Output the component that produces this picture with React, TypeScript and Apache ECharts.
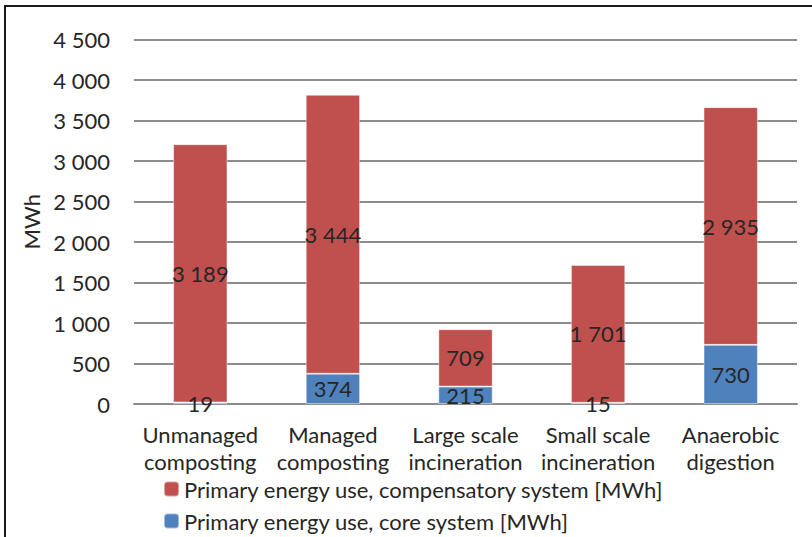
import React, { useEffect, useRef } from "react";
import * as echarts from "echarts";

const categories = [
  "Unmanaged\ncomposting",
  "Managed\ncomposting",
  "Large scale\nincineration",
  "Small scale\nincineration",
  "Anaerobic\ndigestion",
];
const coreSystem = [19, 374, 215, 15, 730];
const compensatorySystem = [3189, 3444, 709, 1701, 2935];
const coreName = "Primary energy use, core system [MWh]";
const compName = "Primary energy use, compensatory system [MWh]";

const FONT = "Lato";
const TEXT = "#262626";
const SIZE = 22;

// thousands separated with a space
const fmt = (v: number) => String(v).replace(/\B(?=(\d{3})+(?!\d))/g, " ");

const legendItem = (name: string, top: number) => ({
  orient: "vertical",
  left: 158,
  top,
  itemWidth: 15,
  itemHeight: 15,
  itemGap: 5,
  textStyle: { color: TEXT, fontSize: SIZE, fontFamily: FONT },
  data: [name],
});

export default function App() {
  const ref = useRef<HTMLDivElement>(null);
  useEffect(() => {
    if (!ref.current) return;
    const chart = echarts.init(ref.current, undefined, { renderer: "svg" });
    const label = {
      show: true,
      position: "inside" as const,
      color: TEXT,
      fontSize: SIZE,
      fontFamily: FONT,
      formatter: (p: any) => fmt(p.value),
    };
    chart.setOption({
      animation: false,
      backgroundColor: "#ffffff",
      textStyle: { fontFamily: FONT },
      graphic: [
        {
          type: "rect",
          shape: { x: 5, y: 6, width: 900, height: 700 },
          style: { fill: "none", stroke: "#1a1a1a", lineWidth: 2 },
          silent: true,
        },
      ],
      grid: { left: 134, right: 15, top: 39.5, bottom: 133, containLabel: false },
      legend: [legendItem(compName, 473), legendItem(coreName, 505)],
      xAxis: {
        type: "category",
        data: categories,
        axisLine: { lineStyle: { color: "#8c8c8c", width: 2 } },
        axisTick: { show: false },
        axisLabel: {
          interval: 0,
          color: TEXT,
          fontSize: SIZE,
          fontFamily: FONT,
          lineHeight: 27,
          margin: 17,
        },
      },
      yAxis: {
        type: "value",
        min: 0,
        max: 4500,
        interval: 500,
        name: "MWh",
        nameLocation: "middle",
        nameGap: 90,
        nameTextStyle: { color: TEXT, fontSize: SIZE, fontFamily: FONT },
        axisLine: { show: false },
        axisTick: { show: false },
        axisLabel: {
          color: TEXT,
          fontSize: SIZE,
          fontFamily: FONT,
          margin: 24,
          formatter: (v: number) => fmt(v),
        },
        splitLine: { lineStyle: { color: "#8c8c8c", width: 2 } },
      },
      series: [
        {
          name: coreName,
          type: "bar",
          stack: "total",
          barWidth: "41%",
          data: coreSystem,
          itemStyle: { color: "#4F81BD", borderColor: "rgba(255,255,255,0.45)", borderWidth: 1 },
          label,
        },
        {
          name: compName,
          type: "bar",
          stack: "total",
          barWidth: "41%",
          data: compensatorySystem,
          itemStyle: { color: "#C0504D", borderColor: "rgba(255,255,255,0.45)", borderWidth: 1 },
          label,
        },
      ],
    });
    return () => chart.dispose();
  }, []);
  return (
    <div
      ref={ref}
      style={{ position: "fixed", left: 0, top: 0, width: 812, height: 537 }}
    />
  );
}
